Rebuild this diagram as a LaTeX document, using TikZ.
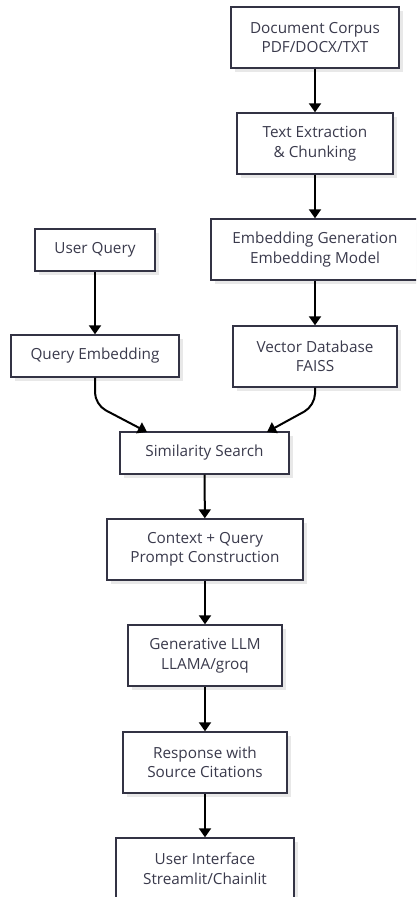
\documentclass[tikz,border=0pt]{standalone}
\usepackage{fontspec}
\setmainfont{Open Sans}
\usetikzlibrary{arrows.meta,shadows}
\definecolor{edge}{HTML}{333344}
\definecolor{txt}{HTML}{3A3A4C}
\tikzset{
  box/.style={draw=edge, line width=1.4pt, fill=white, text=txt, align=center,
    inner sep=0pt, font=\fontsize{15.3}{19.5}\selectfont,
    drop shadow={shadow xshift=4pt, shadow yshift=-4pt, fill=black!9, opacity=1}},
  conn/.style={draw=black, line width=2pt, -{Triangle[length=9pt,width=12pt]}},
}
\begin{document}
\begin{tikzpicture}[x=1pt,y=-1pt]
\path[use as bounding box] (0,0) rectangle (416,897);
\clip (0,0) rectangle (416,897);
\node[box, minimum width=168pt, minimum height=61pt] (dc) at (315,37.5) {Document Corpus\\PDF/DOCX/TXT};
\node[box, minimum width=156pt, minimum height=61pt] (te) at (315,143.5) {Text Extraction\\\& Chunking};
\node[box, minimum width=208pt, minimum height=61pt] (eg) at (315,249.5) {Embedding Generation\\Embedding Model};
\node[box, minimum width=120pt, minimum height=42pt] (uq) at (95,250) {User Query};
\node[box, minimum width=168pt, minimum height=42pt] (qe) at (95,356) {Query Embedding};
\node[box, minimum width=164pt, minimum height=61pt] (vd) at (315,356.5) {Vector Database\\FAISS};
\node[box, minimum width=169pt, minimum height=42pt] (ss) at (204.5,453) {Similarity Search};
\node[box, minimum width=196pt, minimum height=61pt] (cq) at (205,549.5) {Context + Query\\Prompt Construction};
\node[box, minimum width=154pt, minimum height=61pt] (gl) at (205,655.5) {Generative LLM\\LLAMA/groq};
\node[box, minimum width=164pt, minimum height=61pt] (rs) at (205,762.5) {Response with\\Source Citations};
\node[box, minimum width=178pt, minimum height=61pt] (ui) at (205,868.5) {User Interface\\Streamlit/Chainlit};
\coordinate (ssl) at (147,432);
\coordinate (ssr) at (267,432);
\draw[conn] (dc) -- (te);
\draw[conn] (te) -- (eg);
\draw[conn] (eg) -- (vd);
\draw[conn] (uq) -- (qe);
\draw[conn, rounded corners=12pt] (qe.south) -- ++(0,27) -- (ssl);
\draw[conn, rounded corners=12pt] (vd.south) -- ++(0,18) -- (ssr);
\draw[conn] (ss) -- (cq);
\draw[conn] (cq) -- (gl);
\draw[conn] (gl) -- (rs);
\draw[conn] (rs) -- (ui);
\end{tikzpicture}
\end{document}
